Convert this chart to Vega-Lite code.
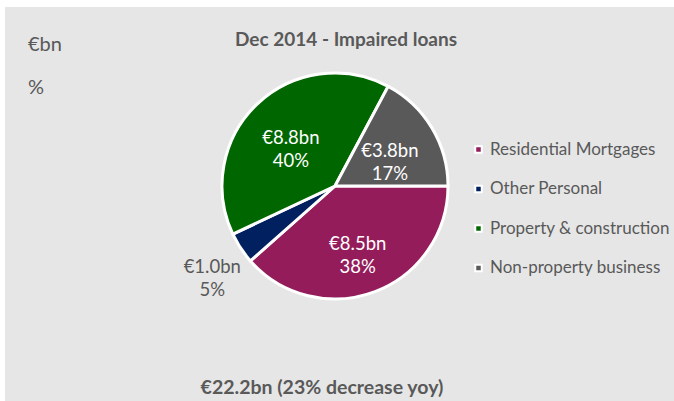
{
  "$schema": "https://vega.github.io/schema/vega-lite/v6.json",
  "autosize": {"type": "fit", "contains": "padding"},
  "width": 674,
  "height": 401,
  "padding": {"left": 5, "top": 7, "right": 0, "bottom": 0},
  "background": "white",
  "view": {"fill": "#e6e6e6", "stroke": null},
  "config": {
    "view": {"fill": "#e6e6e6", "stroke": null},
    "font": "Lato",
    "text": {"font": "Lato"}
  },
  "datasets": {
    "loans": [
      {"idx": 1, "category": "Residential Mortgages", "value": 8.5, "label": "€8.5bn\n38%"},
      {"idx": 2, "category": "Other Personal", "value": 1.0, "label": "€1.0bn\n5%"},
      {"idx": 3, "category": "Property & construction", "value": 8.8, "label": "€8.8bn\n40%"},
      {"idx": 4, "category": "Non-property business", "value": 3.8, "label": "€3.8bn\n17%"}
    ]
  },
  "layer": [
    {
      "data": {"name": "loans"},
      "mark": {"type": "arc", "outerRadius": 113, "stroke": "white", "strokeWidth": 3, "x": 330, "y": 179},
      "encoding": {
        "theta": {"field": "value", "type": "quantitative", "stack": true, "scale": {"range": [1.5708, 7.854]}},
        "order": {"field": "idx", "type": "quantitative"},
        "color": {
          "field": "category",
          "type": "nominal",
          "sort": ["Residential Mortgages", "Other Personal", "Property & construction", "Non-property business"],
          "scale": {
            "domain": ["Residential Mortgages", "Other Personal", "Property & construction", "Non-property business"],
            "range": ["#941c5a", "#002060", "#006600", "#595959"]
          },
          "legend": {
            "title": null,
            "orient": "none",
            "legendX": 465,
            "legendY": 134,
            "symbolType": "square",
            "symbolSize": 42,
            "symbolStrokeColor": "white",
            "symbolStrokeWidth": 2,
            "labelFont": "Lato",
            "labelFontSize": 17,
            "labelLimit": 400,
            "labelColor": "#595959",
            "labelOffset": 3,
            "rowPadding": 21.5
          }
        }
      }
    },
    {
      "data": {"name": "loans"},
      "mark": {"type": "text", "radius": 64, "x": 330, "y": 177, "color": "white", "fontSize": 18.5, "lineBreak": "\n", "lineHeight": 23, "font": "Lato"},
      "encoding": {
        "theta": {"field": "value", "type": "quantitative", "stack": true},
        "order": {"field": "idx", "type": "quantitative"},
        "text": {"field": "label", "type": "nominal"},
        "opacity": {
          "condition": {"test": "datum.category === 'Other Personal'", "value": 0},
          "value": 1
        }
      }
    },
    {
      "data": {"name": "loans"},
      "mark": {"type": "text", "radius": 147, "x": 330, "y": 179, "color": "#595959", "fontSize": 18.5, "lineBreak": "\n", "lineHeight": 23, "font": "Lato"},
      "encoding": {
        "theta": {"field": "value", "type": "quantitative", "stack": true},
        "order": {"field": "idx", "type": "quantitative"},
        "text": {"field": "label", "type": "nominal"},
        "opacity": {
          "condition": {"test": "datum.category === 'Other Personal'", "value": 1},
          "value": 0
        }
      }
    },
    {
      "data": {"values": [{"t": "Dec 2014 - Impaired loans"}]},
      "mark": {"type": "text", "x": 341, "y": 33, "fontSize": 19, "fontWeight": "bold", "color": "#595959", "font": "Lato"},
      "encoding": {"text": {"field": "t"}}
    },
    {
      "data": {"values": [{"t": "€bn"}]},
      "mark": {"type": "text", "x": 23, "y": 38, "align": "left", "fontSize": 20, "color": "#595959", "font": "Lato"},
      "encoding": {"text": {"field": "t"}}
    },
    {
      "data": {"values": [{"t": "%"}]},
      "mark": {"type": "text", "x": 23, "y": 81, "align": "left", "fontSize": 20, "color": "#595959", "font": "Lato"},
      "encoding": {"text": {"field": "t"}}
    },
    {
      "data": {"values": [{"t": "€22.2bn (23% decrease yoy)"}]},
      "mark": {"type": "text", "x": 317, "y": 381, "fontSize": 19.5, "fontWeight": "bold", "color": "#595959", "font": "Lato"},
      "encoding": {"text": {"field": "t"}}
    }
  ]
}
